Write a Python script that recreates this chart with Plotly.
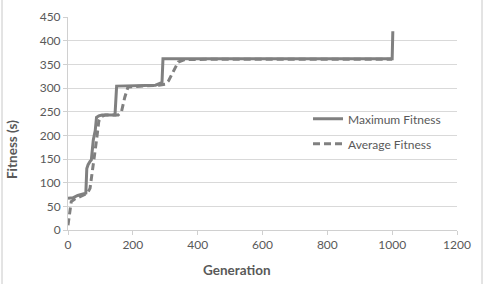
import plotly.graph_objects as go

max_gen = [0, 15, 30, 55, 58, 62, 68, 72, 78, 84, 88, 95, 105, 145, 150, 200, 270, 285, 290, 293, 1000, 1002]
max_fit = [67, 68, 73, 78, 130, 138, 145, 148, 190, 210, 238, 241, 243, 243, 304, 305, 306, 310, 312, 362, 362, 420]

avg_gen = [0, 5, 10, 20, 40, 60, 68, 75, 80, 88, 95, 105, 115, 155, 165, 175, 185, 250, 280, 300, 310, 340, 360, 500, 1000]
avg_fit = [10, 40, 60, 65, 72, 78, 88, 120, 145, 190, 230, 240, 243, 243, 250, 280, 302, 304, 306, 308, 315, 355, 360, 361, 361]

x_ticks = [0, 200, 400, 600, 800, 1000, 1200]
y_ticks = [0, 50, 100, 150, 200, 250, 300, 350, 400, 450]

GRAY = "#808080"
TXT = "#595959"
FONT = "Lato"

fig = go.Figure()
fig.add_trace(go.Scatter(x=max_gen, y=max_fit, mode="lines", name="Maximum Fitness",
                         line=dict(color=GRAY, width=3), legendgroup="a"))
fig.add_trace(go.Scatter(x=avg_gen, y=avg_fit, mode="lines", name="Average Fitness",
                         line=dict(color=GRAY, width=3, dash="7px,4px"), legendgroup="b"))

fig.update_layout(
    width=484, height=284,
    margin=dict(l=68, r=27, t=9, b=54),
    paper_bgcolor="white", plot_bgcolor="white",
    font=dict(family=FONT, size=11, color=TXT),
    showlegend=True,
    legend=dict(x=0.617, y=0.59, xanchor="left", yanchor="top",
                bgcolor="rgba(0,0,0,0)", font=dict(size=12, color=TXT),
                traceorder="grouped", tracegroupgap=6),
    xaxis=dict(range=[0, 1200], tickvals=x_ticks, showgrid=False,
               showline=True, linecolor="#d0d0d0", linewidth=1,
               ticks="outside", ticklen=4, tickcolor="#d0d0d0",
               tickfont=dict(size=12, color=TXT), zeroline=False),
    yaxis=dict(range=[0, 450], tickvals=y_ticks, showgrid=True, gridcolor="#d9d9d9",
               showline=True, linecolor="#d0d0d0", linewidth=1,
               ticks="outside", ticklen=4, tickcolor="#d0d0d0",
               tickfont=dict(size=12, color=TXT), zeroline=False),
    annotations=[
        dict(text="<b>Generation</b>", xref="paper", yref="paper",
             x=(237 - 68) / 389, y=-(271 - 230) / 221, xanchor="center", yanchor="middle",
             showarrow=False, font=dict(size=13.5, color=TXT, family=FONT)),
        dict(text="<b>Fitness (s)</b>", xref="paper", yref="paper",
             x=-(68 - 12) / 389, y=(230 - 147) / 221, xanchor="center", yanchor="middle",
             textangle=-90, showarrow=False, font=dict(size=13.5, color=TXT, family=FONT)),
    ],
    shapes=[
        dict(type="line", xref="paper", yref="paper", x0=-(68 - 2) / 389, x1=-(68 - 2) / 389,
             y0=-1, y1=2, line=dict(color="#c8c8c8", width=1)),
        dict(type="line", xref="paper", yref="paper", x0=(482 - 68) / 389, x1=(482 - 68) / 389,
             y0=-1, y1=2, line=dict(color="#c8c8c8", width=1)),
    ],
)

fig.write_html("out.html")
